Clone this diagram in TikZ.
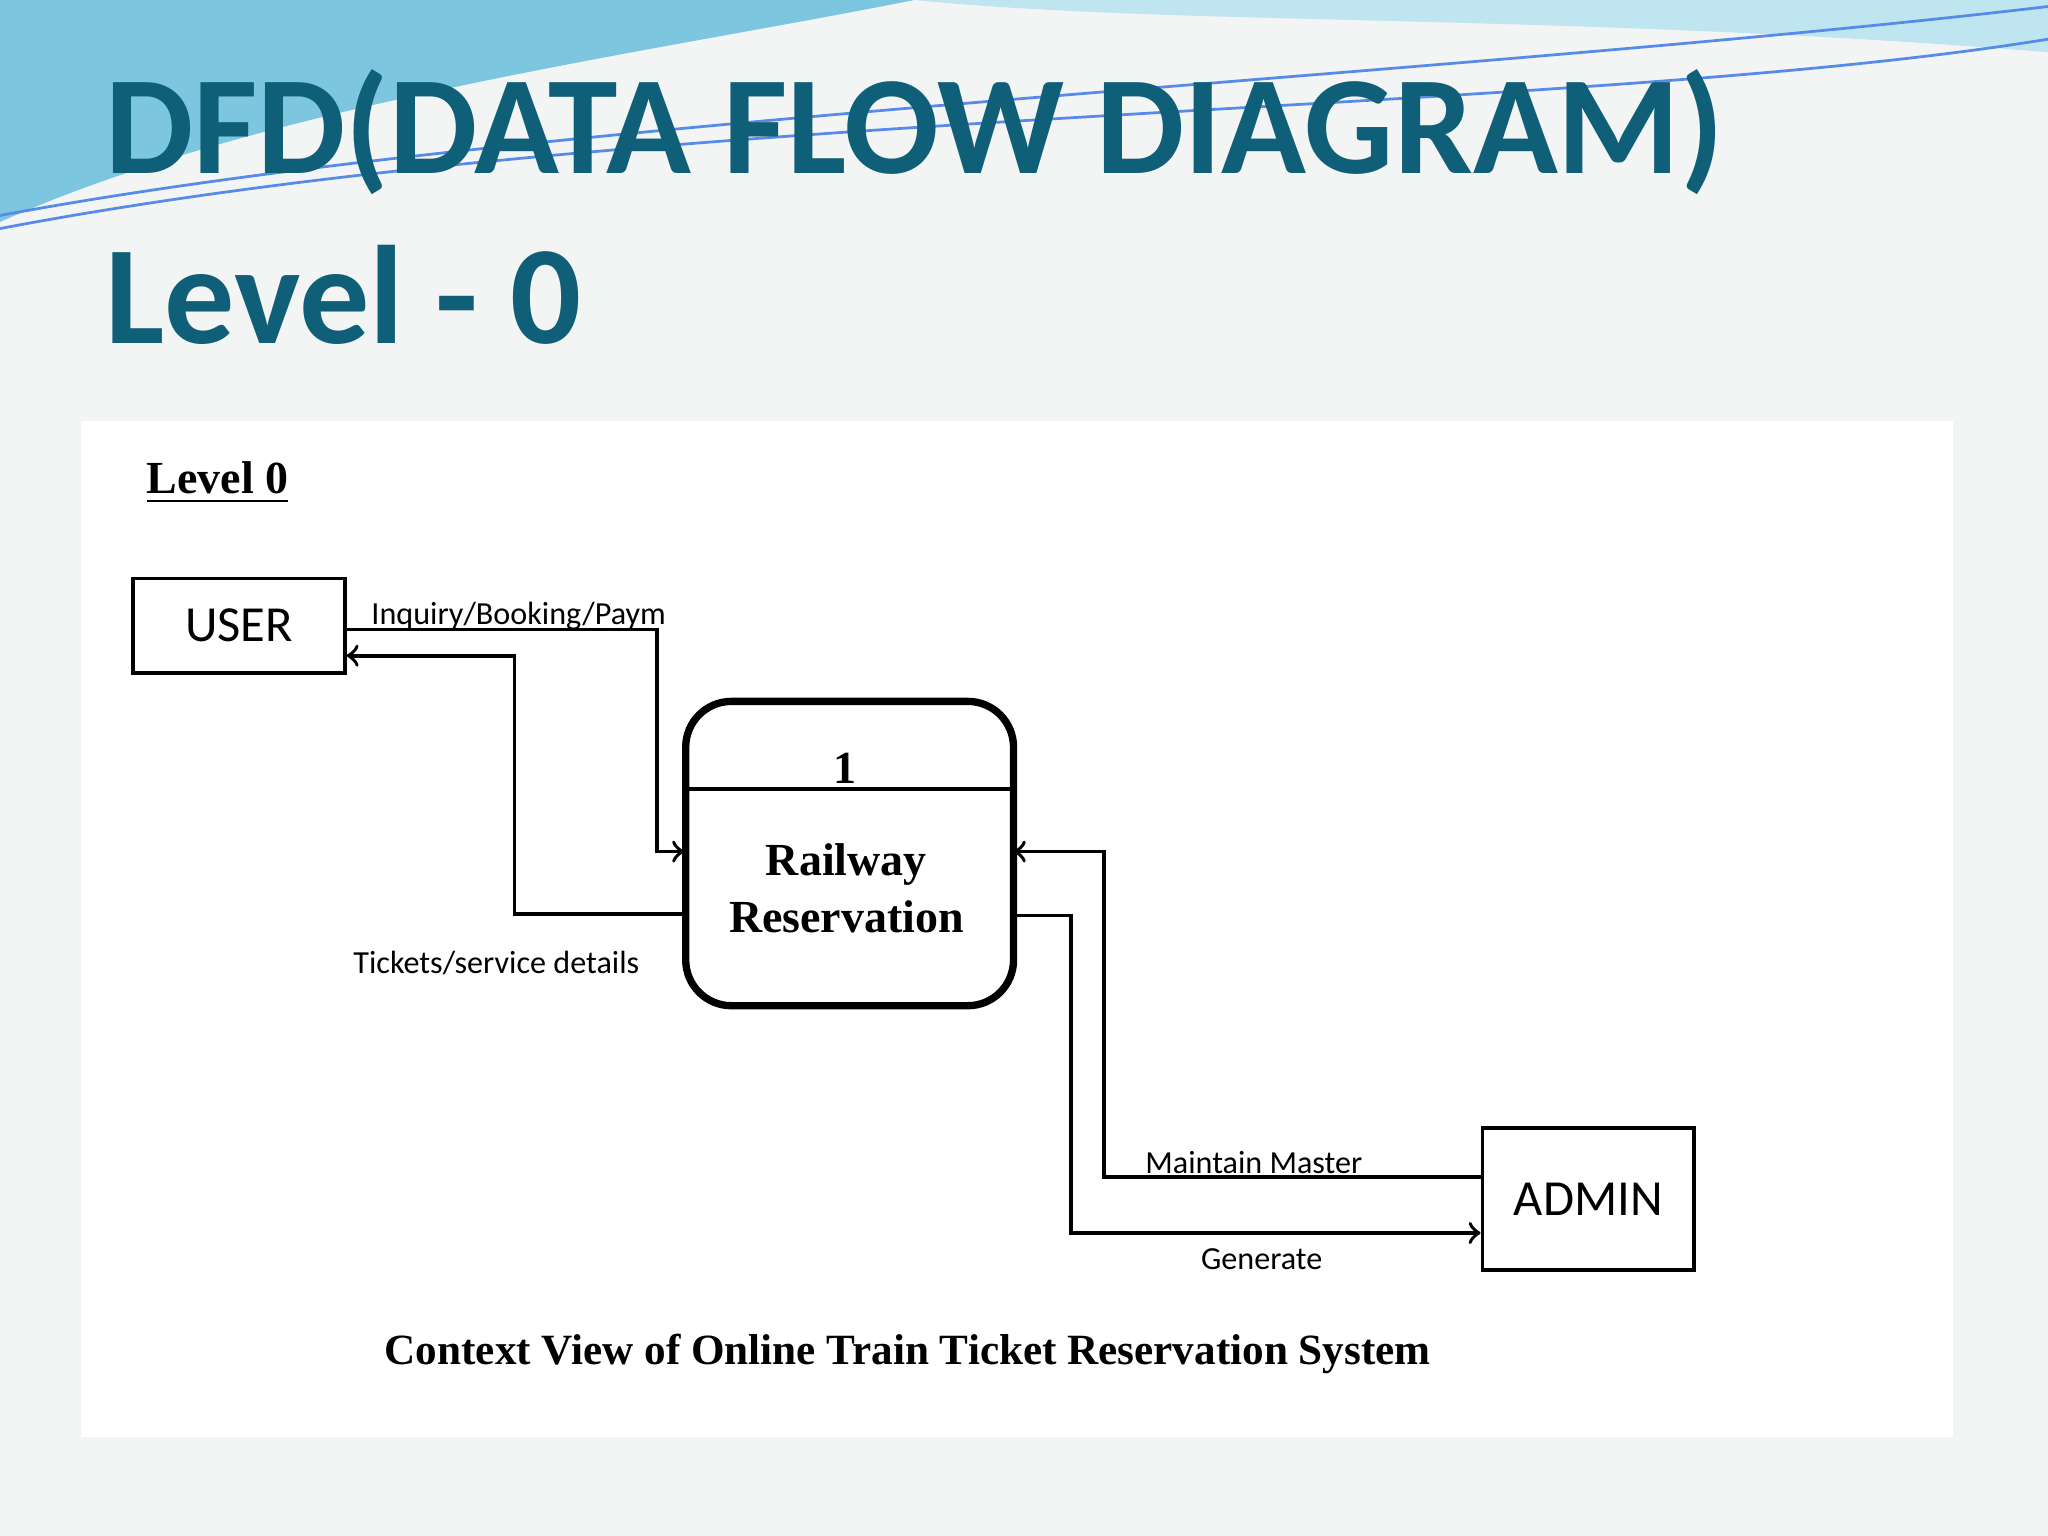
\documentclass[tikz,border=0pt]{standalone}
\usepackage{fontspec}
\setmainfont{Liberation Serif}
\newfontfamily\carlito{Carlito}
\usepackage{tikz}
\usetikzlibrary{arrows, positioning, calc}
\definecolor{titleteal}{HTML}{0F5F78}
\definecolor{pagebg}{HTML}{F3F4F4}
\definecolor{wave}{HTML}{7CC6DF}
\definecolor{wavelight}{HTML}{BFE6F0}
\tikzset{
  entity/.style={draw, line width=0.8pt, minimum width=1.62cm, minimum height=0.72cm, font=\carlito\fontsize{11}{11}\selectfont},
  flow/.style={font=\carlito\fontsize{7}{7}\selectfont},
  link/.style={line width=0.8pt, ->, >=to},
}
\begin{document}
\begin{tikzpicture}[x=0.01cm, y=-0.01cm]
    % Page and swoosh
    \fill[pagebg] (0,0) rectangle (1568,1176);
    \useasboundingbox (0,0) rectangle (1568,1176);
    \fill[wavelight] (0,0) -- (1568,0) -- (1568,40) .. controls (1200,10) and (900,20) .. (700,0) -- cycle;
    \fill[wave] (0,0) -- (700,0) .. controls (500,40) and (200,80) .. (0,170) -- cycle;
    \draw[wave!70!blue, line width=0.6pt] (0,165) .. controls (400,90) and (1100,60) .. (1568,5);
    \draw[wave!70!blue, line width=0.6pt] (0,175) .. controls (500,80) and (1200,90) .. (1568,30);

    % Title
    \node[titleteal, anchor=base west, font=\carlito\bfseries\fontsize{30.5}{30.5}\selectfont] (title) at (68,133) {DFD(DATA FLOW DIAGRAM)};
    \node[titleteal, anchor=base west, font=\carlito\bfseries\fontsize{30.5}{30.5}\selectfont] (level) at (68,263) {Level - 0};

    % Diagram panel
    \fill[white] (62,322) rectangle (1495,1100);
    \node[anchor=base west, font=\bfseries\fontsize{10}{10}\selectfont] (lvl) at (100,378) {\underline{Level 0}};

    % Entities and process
    \node[entity] (user) at (183,479) {USER};
    \node[entity, minimum height=1.09cm] (admin) at (1216,918) {ADMIN};
    \draw[line width=1.6pt, rounded corners=0.35cm] (525,537) rectangle (776,770);
    \node[minimum width=2.51cm, minimum height=2.33cm] (proc) at (650,653) {};
    \draw[line width=0.8pt] (525,604) -- (776,604);
    \node[font=\bfseries\fontsize{10}{10}\selectfont] (num) at (647,588) {1};
    \node[align=center, font=\bfseries\fontsize{10}{12.5}\selectfont] (name) at (648,680) {Railway\\Reservation};

    % Data flows
    \coordinate (a1) at (503,482);
    \coordinate (a2) at (503,652);
    \draw[link] (user.east |- a1) -- (a1) -- (a2) -- (proc.west |- a2);
    \node[flow, anchor=base west] (inq) at (272,478) {Inquiry/Booking/Paym};
    \coordinate (t1) at (394,700);
    \coordinate (t2) at (394,502);
    \draw[link] (proc.west |- t1) -- (t1) -- (t2) -- (user.east |- t2);
    \node[flow] (tix) at (380,737) {Tickets/service details};
    \coordinate (m1) at (845,901);
    \coordinate (m2) at (845,652);
    \draw[link] (admin.west |- m1) -- (m1) -- (m2) -- (proc.east |- m2);
    \node[flow] (mnt) at (960,890) {Maintain Master};
    \coordinate (g1) at (820,701);
    \coordinate (g2) at (820,944);
    \draw[link] (proc.east |- g1) -- (g1) -- (g2) -- (admin.west |- g2);
    \node[flow] (gen) at (966,964) {Generate};

    % Caption
    \node[font=\bfseries\fontsize{9.4}{9.4}\selectfont] (cap) at (695,1037) {Context View of Online Train Ticket Reservation System};
\end{tikzpicture}
\end{document}
